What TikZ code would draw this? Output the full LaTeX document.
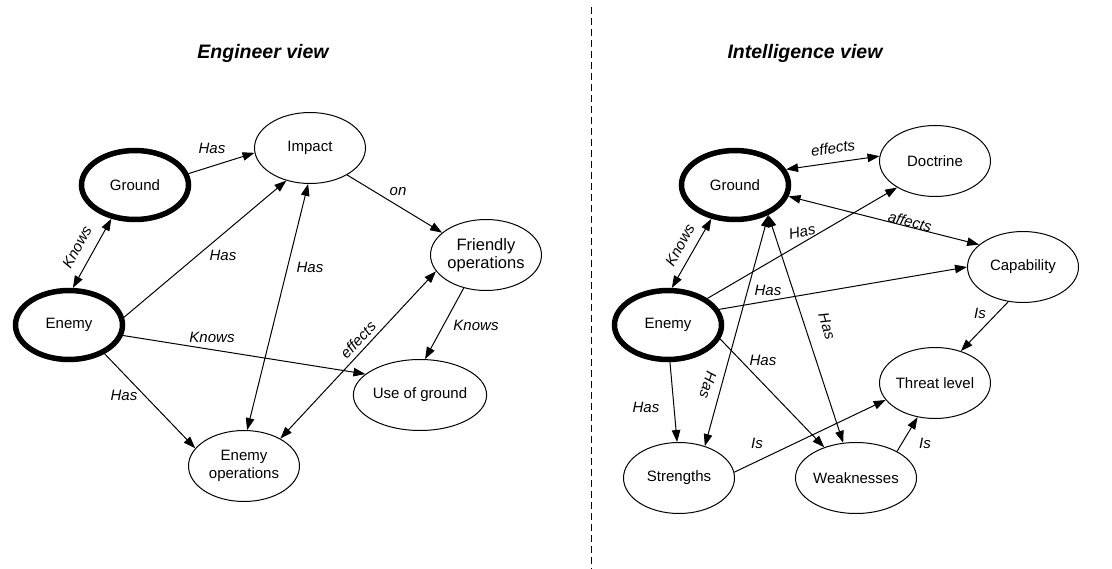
\documentclass[tikz,border=0pt]{standalone}
\usepackage{fontspec}
\setmainfont{Liberation Sans}
\usetikzlibrary{shapes.geometric,arrows.meta}
\begin{document}
\begin{tikzpicture}[x=1pt,y=-1pt,
  every node/.style={font=\fontsize{15}{18}\selectfont},
  ell/.style={draw, ellipse, line width=1pt, minimum width=111pt, minimum height=71pt, inner sep=0pt, align=center},
  boldell/.style={ell, line width=5.5pt, minimum width=107pt, minimum height=69pt},
  lbl/.style={font=\fontsize{15}{18}\selectfont\itshape, inner sep=0pt},
  conn/.style={line width=1pt, -{Triangle[length=12pt,width=8.5pt]}},
  bconn/.style={line width=1pt, {Triangle[length=12pt,width=8.5pt]}-{Triangle[length=12pt,width=8.5pt]}},
  ttl/.style={font=\fontsize{19.5}{22}\selectfont\bfseries\itshape, inner sep=0pt}
]
\useasboundingbox (0,0) rectangle (1112,569);

% separator
\coordinate (sepT) at (591,7);
\coordinate (sepB) at (591,569);
\draw[line width=1pt, dash pattern=on 7pt off 4pt] (sepT) -- (sepB);

% titles
\node[ttl] (t1) at (263,53) {Engineer view};
\node[ttl] (t2) at (805,53) {Intelligence view};

% ---------- Engineer view ----------
\node[boldell] (G1) at (135,185) {Ground};
\node[ell] (Imp) at (310,148) {Impact};
\node[ell, font=\fontsize{16.5}{18}\selectfont] (Fr) at (486,255) {Friendly\\operations};
\node[boldell] (E1) at (69,325) {Enemy};
\node[ell] (Use) at (420,395) {Use of ground};
\node[ell] (EO) at (244,466) {Enemy\\operations};

\draw[conn] (G1.12) -- (Imp.185);
\draw[bconn] (G1.-125) -- (E1.84);
\draw[conn] (E1.8) -- (Imp.234);
\draw[bconn] (Imp.-93) -- (EO.85);
\draw[conn] (Imp.-36) -- (Fr.153);
\draw[bconn] (Fr.198) -- (EO.37);
\draw[conn] (Fr.-124) -- (Use.82);
\draw[conn] (E1.-11) -- (Use.159);
\draw[conn] (E1.-39) -- (EO.160);

\node[lbl] (l1) at (212,148) {Has};
\node[lbl, rotate=61] (l2) at (77,247) {Knows};
\node[lbl] (l3) at (223,255) {Has};
\node[lbl] (l4) at (310,267) {Has};
\node[lbl] (l5) at (398,192) {on};
\node[lbl] (l6) at (476,325) {Knows};
\node[lbl] (l7) at (212,337) {Knows};
\node[lbl, rotate=47] (l8) at (358,340) {effects};
\node[lbl] (l9) at (124,395) {Has};

% ---------- Intelligence view ----------
\node[boldell] (G2) at (735,185) {Ground};
\node[ell] (Doc) at (935,161) {Doctrine};
\node[ell] (Cap) at (1023,267) {Capability};
\node[boldell] (E2) at (668,325) {Enemy};
\node[ell] (Thr) at (935,383) {Threat level};
\node[ell] (Str) at (679,478) {Strengths};
\node[ell] (Weak) at (856,478) {Weaknesses};

\draw[bconn] (G2.17) -- (Doc.175);
\draw[bconn] (G2.-12) -- (Cap.153);
\draw[bconn] (G2.-125) -- (E2.84);
\draw[conn] (E2.34) -- (Doc.215);
\draw[conn] (E2.17) -- (Cap.180);
\draw[conn] (E2.-15) -- (Weak.136);
\draw[conn] (E2.-87) -- (Str.93);
\draw[bconn] (Str.51) -- (G2.-42);
\draw[bconn] (G2.-42) -- (Weak.110);
\draw[conn] (Cap.247) -- (Thr.51);
\draw[conn] (Str.6) -- (Thr.199);
\draw[conn] (Weak.33) -- (Thr.243);

\node[lbl, rotate=8] (r1) at (833,148) {effects};
\node[lbl, rotate=-14] (r2) at (910,222) {affects};
\node[lbl, rotate=61] (r3) at (680,245) {Knows};
\node[lbl, rotate=12] (r4) at (802,232) {Has};
\node[lbl] (r5) at (768,290) {Has};
\node[lbl] (r6) at (763,360) {Has};
\node[lbl] (r7) at (646,407) {Has};
\node[lbl, rotate=-107] (r8) at (708,385) {Has};
\node[lbl, rotate=-73] (r9) at (827,326) {Has};
\node[lbl] (r10) at (980,313) {Is};
\node[lbl] (r11) at (757,443) {Is};
\node[lbl] (r12) at (925,443) {Is};
\end{tikzpicture}
\end{document}
